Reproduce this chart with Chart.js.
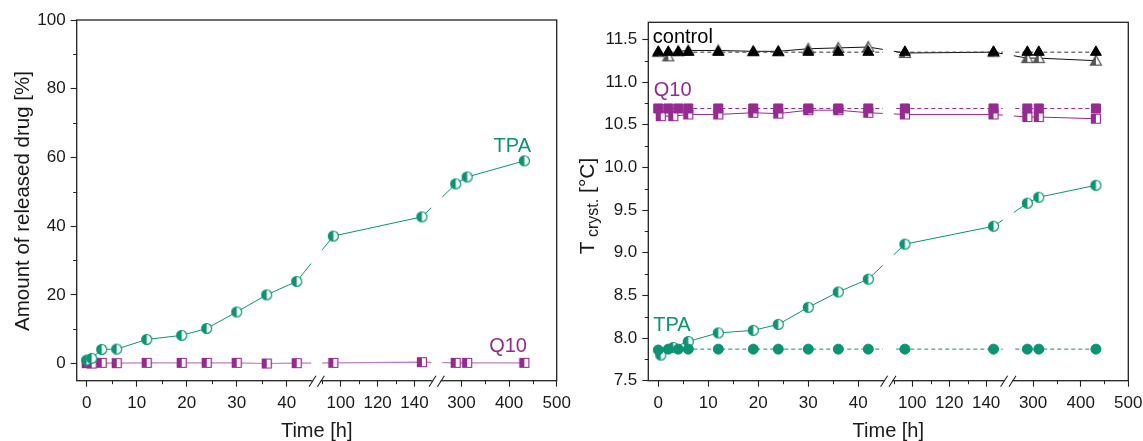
<!DOCTYPE html>
<html lang="en">
<head>
<meta charset="UTF-8" />
<title>Drug release and crystallization temperature</title>
<script src="https://cdn.jsdelivr.net/npm/chart.js"></script>
<style>
  body { margin: 0; background: #fff; }
  .row { display: flex; width: 1143px; height: 441px; }
  .panel { position: relative; height: 441px; }
  #p1 { width: 571px; }
  #p2 { width: 572px; }
</style>
</head>
<body>
<div class="row">
  <div class="panel" id="p1"><canvas id="release"></canvas></div>
  <div class="panel" id="p2"><canvas id="cryst"></canvas></div>
</div>
<script>
// ---- data ----
// left panel: released drug [%]
const releaseTimes = [0, 1, 3, 6, 12, 19, 24, 30, 36, 42, 96, 144, 288, 312, 432];
const releaseTPA = [1.0, 1.5, 4.1, 4.2, 7.0, 8.2, 10.2, 15.0, 20.0, 23.9, 37.1, 42.7, 52.3, 54.3, 59.0];
const releaseQ10 = [0.1, 0.0, 0.2, 0.1, 0.2, 0.2, 0.2, 0.2, 0.0, 0.1, 0.2, 0.4, 0.2, 0.2, 0.2];

// right panel: T cryst. [°C]
const refTimes = [0, 2, 4, 6, 12, 19, 24, 30, 36, 42, 96, 144, 288, 312, 432];
const loadedTimes = [0.5, 3, 6, 12, 19, 24, 30, 36, 42, 96, 144, 288, 312, 432];
const controlRef = [11.35, 11.35, 11.35, 11.35, 11.35, 11.35, 11.35, 11.35, 11.35, 11.35, 11.35, 11.35, 11.35, 11.35, 11.35];
const controlOpen = [11.35, 11.30, 11.36, 11.37, 11.37, 11.36, 11.36, 11.39, 11.40, 11.41, 11.34, 11.35, 11.28, 11.28, 11.25];
const q10Ref = [10.69, 10.69, 10.69, 10.69, 10.69, 10.69, 10.69, 10.69, 10.69, 10.69, 10.69, 10.69, 10.69, 10.69, 10.69];
const q10Loaded = [10.60, 10.60, 10.62, 10.62, 10.64, 10.63, 10.67, 10.67, 10.64, 10.62, 10.62, 10.59, 10.59, 10.57];
const tpaRef = [7.86, 7.87, 7.87, 7.87, 7.87, 7.87, 7.87, 7.87, 7.87, 7.87, 7.87, 7.87, 7.87, 7.87, 7.87];
const tpaLoaded = [7.80, 7.89, 7.96, 8.06, 8.09, 8.16, 8.36, 8.54, 8.69, 9.10, 9.31, 9.58, 9.65, 9.79];

// broken time axis
const xSegments = [[-2, 46], [87, 152], [248, 500]];
const xSegmentShare = [0.5, 0.25, 0.25];
const xMajorTicks = [0, 10, 20, 30, 40, 100, 120, 140, 300, 400, 500];
const xMinorTicks = [5, 15, 25, 35, 90, 110, 130, 350, 450];

const releaseYTicks = [0, 20, 40, 60, 80, 100];
const releaseYMinor = [10, 30, 50, 70, 90];
const crystYTicks = [7.5, 8.0, 8.5, 9.0, 9.5, 10.0, 10.5, 11.0, 11.5];
const crystYMinor = [7.75, 8.25, 8.75, 9.25, 9.75, 10.25, 10.75, 11.25];

const TEAL = '#0b9374';
const PURPLE = '#952a91';
const FONT = "'Liberation Sans', Arial, Helvetica, sans-serif";

Chart.defaults.font.family = FONT;
Chart.defaults.color = '#1a1a1a';

// scale that squeezes three time ranges next to each other
class BrokenScale extends Chart.LinearScale {
  static id = 'broken';
  static defaults = {};
  buildTicks() {
    return xMajorTicks.map(v => ({ value: v }));
  }
  toDecimal(v) {
    let start = 0;
    for (let i = 0; i < xSegments.length; i++) {
      const [a, b] = xSegments[i];
      if (v <= b || i === xSegments.length - 1) {
        const t = Math.max(0, Math.min(1, (v - a) / (b - a)));
        return start + t * xSegmentShare[i];
      }
      start += xSegmentShare[i];
    }
  }
  getPixelForValue(v) {
    return this.getPixelForDecimal(this.toDecimal(v));
  }
  getValueForPixel(p) {
    let d = this.getDecimalForPixel(p);
    for (let i = 0; i < xSegments.length; i++) {
      if (d <= xSegmentShare[i] || i === xSegments.length - 1) {
        const [a, b] = xSegments[i];
        return a + (d / xSegmentShare[i]) * (b - a);
      }
      d -= xSegmentShare[i];
    }
  }
}
Chart.register(BrokenScale);

function marker(shape, color, size, half) {
  const c = document.createElement('canvas');
  const s = size + 3;
  c.width = c.height = s;
  const g = c.getContext('2d');
  const m = s / 2, r = size / 2;
  const path = () => {
    g.beginPath();
    if (shape === 'circle') g.arc(m, m, r, 0, Math.PI * 2);
    else if (shape === 'square') g.rect(m - r, m - r, size, size);
    else { g.moveTo(m, m - r); g.lineTo(m + r, m + r * 0.8); g.lineTo(m - r, m + r * 0.8); g.closePath(); }
  };
  g.fillStyle = half ? '#fff' : color;
  path(); g.fill();
  if (half) {
    g.save();
    g.beginPath(); g.rect(0, 0, m, s); g.clip();
    g.fillStyle = color; path(); g.fill();
    g.restore();
  }
  g.strokeStyle = color; g.lineWidth = 1.2;
  path(); g.stroke();
  return c;
}

const pts = (xs, ys) => xs.map((x, i) => ({ x, y: ys[i] }));

function decorPlugin(cfg) {
  return {
    id: 'decor',
    afterDatasetsDraw(chart) {
      const { ctx, chartArea: a, scales: { x } } = chart;
      let d = 0;
      ctx.save();
      ctx.fillStyle = '#fff';
      for (let i = 0; i < xSegmentShare.length - 1; i++) {
        d += xSegmentShare[i];
        const bx = x.getPixelForDecimal(d);
        ctx.fillRect(bx - 5.5, a.top + 1, 11, a.bottom - a.top - 2);
      }
      ctx.restore();
    },
    afterDraw(chart) {
      const { ctx, chartArea: a, scales: { x, y } } = chart;
      ctx.save();
      ctx.strokeStyle = '#222';
      ctx.lineWidth = 1.3;
      ctx.strokeRect(a.left, a.top, a.right - a.left, a.bottom - a.top);
      // minor ticks
      ctx.lineWidth = 1;
      ctx.beginPath();
      xMinorTicks.forEach(v => {
        const px = Math.round(x.getPixelForValue(v)) + 0.5;
        ctx.moveTo(px, a.bottom); ctx.lineTo(px, a.bottom + 3.5);
      });
      cfg.yMinor.forEach(v => {
        const py = Math.round(y.getPixelForValue(v)) + 0.5;
        ctx.moveTo(a.left, py); ctx.lineTo(a.left - 3.5, py);
      });
      ctx.stroke();
      // axis break marks
      let d = 0;
      for (let i = 0; i < xSegmentShare.length - 1; i++) {
        d += xSegmentShare[i];
        const bx = x.getPixelForDecimal(d);
        ctx.fillStyle = '#fff';
        ctx.fillRect(bx - 4, a.bottom - 2, 8, 4);
        ctx.beginPath();
        [-4.2, 4.2].forEach(o => {
          ctx.moveTo(bx + o - 3.5, a.bottom + 6);
          ctx.lineTo(bx + o + 3.5, a.bottom - 5);
        });
        ctx.strokeStyle = '#222';
        ctx.lineWidth = 1.1;
        ctx.stroke();
      }
      // y axis title
      ctx.translate(cfg.titleX, cfg.titleY);
      ctx.rotate(-Math.PI / 2);
      ctx.fillStyle = '#1a1a1a';
      ctx.textBaseline = 'alphabetic';
      let total = 0;
      cfg.title.forEach(p => { ctx.font = p.size + 'px ' + FONT; p.w = ctx.measureText(p.text).width; total += p.w; });
      let cx = -total / 2;
      cfg.title.forEach(p => {
        ctx.font = p.size + 'px ' + FONT;
        ctx.fillText(p.text, cx, p.dy);
        cx += p.w;
      });
      ctx.restore();
      // series labels
      ctx.save();
      ctx.font = '20px ' + FONT;
      ctx.textBaseline = 'alphabetic';
      cfg.labels.forEach(l => {
        ctx.fillStyle = l.color;
        ctx.textAlign = l.align;
        ctx.fillText(l.text, x.getPixelForValue(l.x), y.getPixelForValue(l.y));
      });
      ctx.restore();
    }
  };
}

function scalesFor(yMin, yMax, yTicks, yWidth, fmt) {
  return {
    x: {
      type: 'broken', min: -2, max: 500,
      border: { display: false },
      grid: { drawOnChartArea: false, drawTicks: true, tickLength: 6, color: '#222', tickWidth: 1.1 },
      ticks: { autoSkip: false, maxRotation: 0, padding: 6, color: '#1a1a1a', font: { size: 17 }, callback: v => String(v) },
      title: { display: true, text: 'Time [h]', color: '#1a1a1a', font: { size: 20, lineHeight: 1 }, padding: { top: 0, bottom: 0 } },
      afterFit: s => { s.height = 60.3; s.paddingLeft = 0; s.paddingRight = 0; }
    },
    y: {
      min: yMin, max: yMax,
      border: { display: false },
      afterBuildTicks: s => { s.ticks = yTicks.map(v => ({ value: v })); },
      grid: { drawOnChartArea: false, drawTicks: true, tickLength: 6, color: '#222', tickWidth: 1.1 },
      ticks: { padding: 5, color: '#1a1a1a', font: { size: 17 }, callback: fmt },
      afterFit: s => { s.width = yWidth; s.paddingTop = 0; s.paddingBottom = 0; }
    }
  };
}

const common = {
  responsive: true,
  maintainAspectRatio: false,
  animation: false,
  plugins: { legend: { display: false }, tooltip: { enabled: false } },
  elements: { line: { tension: 0 } }
};

new Chart(document.getElementById('release'), {
  type: 'scatter',
  data: {
    datasets: [
      {
        data: pts(releaseTimes, releaseTPA), showLine: true,
        borderColor: TEAL, borderWidth: 1,
        pointStyle: marker('circle', TEAL, 10, true), pointRadius: 5
      },
      {
        data: pts(releaseTimes, releaseQ10), showLine: true,
        borderColor: '#c27fbf', borderWidth: 1.2,
        pointStyle: marker('square', PURPLE, 9, true), pointRadius: 5
      }
    ]
  },
  options: Object.assign({}, common, {
    layout: { padding: { top: 20, right: 14.3, bottom: 0, left: 0 } },
    scales: scalesFor(-5, 100, releaseYTicks, 76.7, v => String(v))
  }),
  plugins: [decorPlugin({
    yMinor: releaseYMinor,
    titleX: 28.5, titleY: 201,
    title: [{ text: 'Amount of released drug [%]', size: 20.5, dy: 0 }],
    labels: [
      { text: 'TPA', x: 446, y: 61.5, color: TEAL, align: 'right' },
      { text: 'Q10', x: 437.5, y: 3.3, color: PURPLE, align: 'right' }
    ]
  })]
});

new Chart(document.getElementById('cryst'), {
  type: 'scatter',
  data: {
    datasets: [
      {
        data: pts(refTimes, controlRef), showLine: true,
        borderColor: '#333', borderWidth: 1, borderDash: [4, 3],
        pointStyle: 'triangle', pointRadius: 6.3, backgroundColor: '#000', pointBorderColor: '#000'
      },
      {
        data: pts(refTimes, controlOpen), showLine: true,
        borderColor: '#111', borderWidth: 1,
        pointStyle: marker('triangle', '#555', 11, true), pointRadius: 5
      },
      {
        data: pts(refTimes, q10Ref), showLine: true,
        borderColor: PURPLE, borderWidth: 1, borderDash: [4, 3],
        pointStyle: 'rect', pointRadius: 6.4, backgroundColor: PURPLE, pointBorderColor: PURPLE
      },
      {
        data: pts(loadedTimes, q10Loaded), showLine: true,
        borderColor: PURPLE, borderWidth: 1,
        pointStyle: marker('square', PURPLE, 9, true), pointRadius: 5
      },
      {
        data: pts(refTimes, tpaRef), showLine: true,
        borderColor: TEAL, borderWidth: 1, borderDash: [4, 3],
        pointStyle: 'circle', pointRadius: 5, backgroundColor: TEAL, pointBorderColor: TEAL
      },
      {
        data: pts(loadedTimes, tpaLoaded), showLine: true,
        borderColor: TEAL, borderWidth: 1,
        pointStyle: marker('circle', TEAL, 10, true), pointRadius: 5
      }
    ]
  },
  options: Object.assign({}, common, {
    layout: { padding: { top: 22.3, right: 14.7, bottom: 0, left: 0 } },
    scales: scalesFor(7.5, 11.7, crystYTicks, 77.3, v => v.toFixed(1))
  }),
  plugins: [decorPlugin({
    yMinor: crystYMinor,
    titleX: 23, titleY: 206,
    title: [
      { text: 'T', size: 21, dy: 0 },
      { text: ' cryst.', size: 16, dy: 4 },
      { text: ' [°C]', size: 21, dy: 0 }
    ],
    labels: [
      { text: 'control', x: -1.1, y: 11.46, color: '#000', align: 'left' },
      { text: 'Q10', x: -0.9, y: 10.84, color: PURPLE, align: 'left' },
      { text: 'TPA', x: -1.0, y: 8.08, color: TEAL, align: 'left' }
    ]
  })]
});
</script>
</body>
</html>
